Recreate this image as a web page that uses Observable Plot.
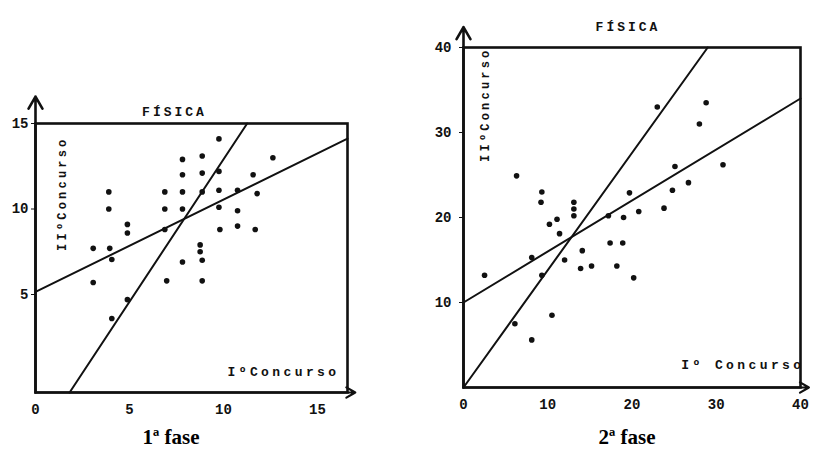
<!DOCTYPE html>
<html><head><meta charset="utf-8">
<script src="https://cdn.jsdelivr.net/npm/d3@7"></script>
<script src="https://cdn.jsdelivr.net/npm/@observablehq/plot@0.6"></script>
<style>
body{margin:0;background:#fff;width:819px;height:456px;position:relative;overflow:hidden;font-family:"Liberation Mono",monospace}
.panel{position:absolute;top:0}
.cap{position:absolute;font-family:"Liberation Serif",serif;font-weight:bold;font-size:21px;top:425px;width:200px;text-align:center}
</style></head><body>
<div id="p1" class="panel" style="left:0"></div>
<div id="p2" class="panel" style="left:400px"></div>
<div id="c1" class="cap" style="left:71px"></div>
<div id="c2" class="cap" style="left:527px"></div>
<script>
const title = "FÍSICA";
const yLabel = "IIºConcurso";
const xLabel1 = "IºConcurso";
const xLabel2 = "Iº Concurso";
const captions = ["1ª fase", "2ª fase"];

// Panel 1 (1ª fase)
const xDomain1 = [0, 16.6];
const yDomain1 = [-0.73, 15];
const xTicks1 = [0, 5, 10, 15];
const yTicks1 = [5, 10, 15];
const px1 = [3.9,3.9,3.07,3.95,4.06,3.07,4.06,4.89,4.89,4.89,6.88,6.88,6.88,6.98,7.82,7.82,7.82,7.82,7.82,8.87,8.87,8.87,8.76,8.76,8.87,8.87,9.76,9.76,9.76,9.76,9.81,10.75,10.75,10.75,11.58,11.79,11.69,12.63];
const py1 = [11.0,10.0,7.7,7.7,7.05,5.7,3.6,4.7,9.1,8.6,11.0,10.0,8.8,5.8,12.9,12.0,11.0,10.0,6.9,13.1,12.1,11.0,7.9,7.5,7.0,5.8,14.1,12.2,11.1,10.1,8.8,11.1,9.9,9.0,12.0,10.9,8.8,13.0];
const fitA1 = [5.15, -3.75];
const fitB1 = [0.54, 1.665];

// Panel 2 (2ª fase)
const xDomain2 = [0, 40];
const yDomain2 = [0, 40];
const xTicks2 = [0, 10, 20, 30, 40];
const yTicks2 = [10, 20, 30, 40];
const px2 = [2.5,6.3,6.1,8.1,8.1,9.3,9.2,9.3,10.2,10.5,11.1,11.4,12.0,13.1,13.1,13.1,14.1,13.9,15.2,17.2,17.4,18.2,18.9,19.0,19.7,20.2,20.8,23.0,23.8,24.8,25.1,26.7,28.0,28.8,30.8];
const py2 = [13.2,24.9,7.5,15.3,5.6,23.0,21.8,13.2,19.2,8.5,19.8,18.1,15.0,21.8,21.0,20.2,16.1,14.0,14.3,20.2,17.0,14.3,17.0,20.0,22.9,12.9,20.7,33.0,21.1,23.2,26.0,24.1,31.0,33.5,26.2];
const fitA2 = [10, 0];
const fitB2 = [0.6, 1.38];

function fitSegments(as, bs, xd, yd) {
  const out = [];
  as.forEach((a, i) => {
    const b = bs[i];
    const xa = Math.max(xd[0], (yd[0] - a) / b);
    const xb = Math.min(xd[1], (yd[1] - a) / b);
    out.push({k: i, x: xa, y: a + b * xa});
    out.push({k: i, x: xb, y: a + b * xb});
  });
  return out;
}

function panel(o) {
  const pts = o.px.map((x, i) => ({x, y: o.py[i]}));
  const segs = fitSegments(o.fa, o.fb, o.xd, o.yd);
  const font = "Liberation Mono";
  const svg = Plot.plot({
    width: o.width, height: o.height,
    marginLeft: o.ml, marginRight: o.mr, marginTop: o.mt, marginBottom: o.mb,
    style: {fontFamily: font, fontWeight: "bold", fontSize: "14px", color: "#111", background: "transparent"},
    x: {domain: o.xd, ticks: o.xt, tickSize: 0, tickPadding: 12, label: null},
    y: {domain: o.yd, ticks: o.yt, tickSize: 4, tickPadding: o.ytp, label: null},
    marks: [
      Plot.frame({stroke: "#111", strokeWidth: 2.6}),
      Plot.arrow([{a: 0}], {x1: () => o.xd[0], y1: () => o.yd[0], x2: () => o.xd[0], y2: () => o.yd[1] + (o.yd[1]-o.yd[0]) * o.ext, stroke: "#111", strokeWidth: 2.6, headLength: 8}),
      Plot.arrow([{a: 0}], {x1: () => o.xd[0], y1: () => o.yd[0], x2: () => o.xd[1] + (o.xd[1]-o.xd[0]) * 0.025, y2: () => o.yd[0], stroke: "#111", strokeWidth: 2.2, headLength: 7}),
      Plot.line(segs, {x: "x", y: "y", z: "k", stroke: "#111", strokeWidth: 2}),
      Plot.dot(pts, {x: "x", y: "y", r: 2.8, fill: "#111", stroke: "none"}),
      Plot.text([title], {text: d => d, frameAnchor: "top", dy: o.tdy, dx: o.tdx, fontSize: 13, fontWeight: "bold"}),
      Plot.text([yLabel], {text: d => d, frameAnchor: "top-left", rotate: -90, textAnchor: "end", dx: o.ydx, dy: o.ydy, fontSize: 12, fontWeight: "bold"}),
      Plot.text([o.xl], {text: d => d, frameAnchor: "bottom-right", textAnchor: "end", dx: o.xdx, dy: o.xdy, fontSize: 13, fontWeight: "bold"})
    ]
  });
  svg.querySelectorAll("text").forEach(t => {
    const s = t.textContent;
    if (s === title) t.style.letterSpacing = "3px";
    else if (s === yLabel) t.style.letterSpacing = "3.2px";
    else if (s === o.xl) t.style.letterSpacing = "3.4px";
  });
  return svg;
}

document.getElementById("p1").append(panel({
  px: px1, py: py1, fa: fitA1, fb: fitB1, xd: xDomain1, yd: yDomain1, xt: xTicks1, yt: yTicks1,
  width: 400, height: 420, ml: 35, mr: 53, mt: 123, mb: 28, ext: 0.1, ytp: 3,
  tdy: -17, tdx: -17, ydx: 22, ydy: 13, xdx: -8, xdy: -17, xl: xLabel1
}));
document.getElementById("p2").append(panel({
  px: px2, py: py2, fa: fitA2, fb: fitB2, xd: xDomain2, yd: yDomain2, xt: xTicks2, yt: yTicks2,
  width: 419, height: 420, ml: 63, mr: 19, mt: 47, mb: 33, ext: 0.06, ytp: 8,
  tdy: -26, tdx: -4, ydx: 17, ydy: 0, xdx: 4, xdy: -19, xl: xLabel2
}));
document.getElementById("c1").textContent = captions[0];
document.getElementById("c2").textContent = captions[1];
</script>
</body></html>
